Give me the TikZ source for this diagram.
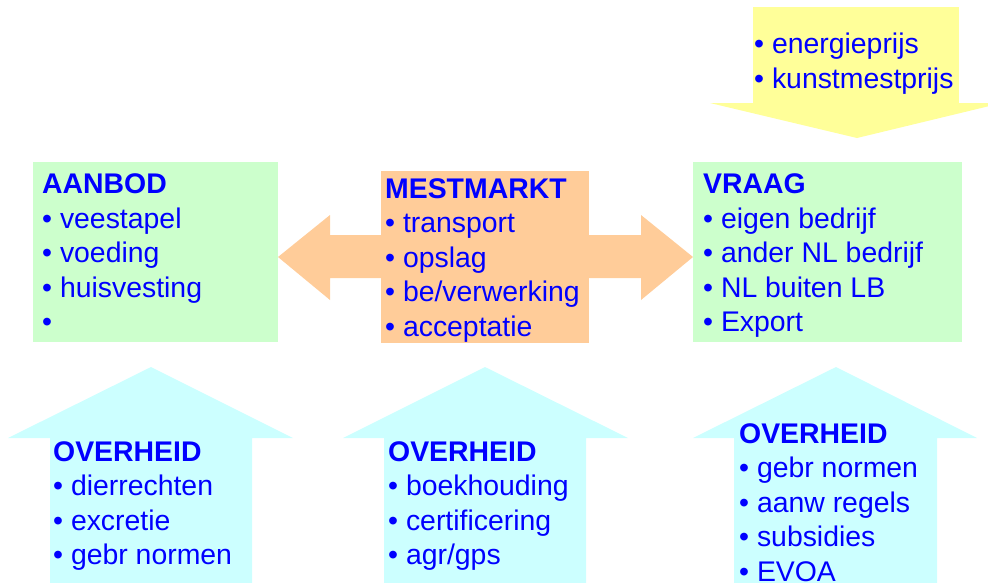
\documentclass[tikz,border=0pt]{standalone}
\usepackage{fontspec}
\setmainfont{Liberation Sans}
\definecolor{tblue}{RGB}{0,0,255}
\definecolor{fgreen}{RGB}{204,255,204}
\definecolor{forange}{RGB}{255,204,153}
\definecolor{fyellow}{RGB}{255,255,153}
\definecolor{fcyan}{RGB}{204,255,255}
\tikzset{
  lbl/.style={anchor=base west, inner sep=0pt, text=tblue, font=\fontsize{28.4}{34.5}\selectfont},
  hd/.style={lbl, font=\fontsize{28.4}{34.5}\selectfont\bfseries},
  noline/.style={draw=none}
}
\begin{document}
\begin{tikzpicture}[x=1pt,y=-1pt]
\useasboundingbox (0,0) rectangle (988,582);
\clip (0,0) rectangle (988,582);
% yellow arrow
\fill[fyellow] (753,7) rectangle (959,103);
\fill[fyellow] (710,103) -- (1002,103) -- (857,138) -- cycle;
% green boxes
\fill[fgreen] (33,162) rectangle (278,342);
\fill[fgreen] (693,162) rectangle (962,342);
% orange double arrow
\fill[forange] (278,257) -- (330,215) -- (330,235) -- (641,235) -- (641,215) -- (693,257)
  -- (641,300) -- (641,278) -- (330,278) -- (330,300) -- cycle;
\fill[forange] (381,171) rectangle (589,343);
% cyan arrows
\fill[fcyan] (151,367) -- (293,438) -- (252,438) -- (252,590) -- (50,590) -- (50,438) -- (8,438) -- cycle;
\fill[fcyan] (485,367) -- (628,438) -- (586,438) -- (586,590) -- (384,590) -- (384,438) -- (343,438) -- cycle;
\fill[fcyan] (836,367) -- (977,438) -- (937,438) -- (937,590) -- (734,590) -- (734,438) -- (693,438) -- cycle;
% yellow text
\node[lbl] (y1) at (754,53) {• energieprijs};
\node[lbl] (y2) at (754,88) {• kunstmestprijs};
% AANBOD
\node[hd]  (a0) at (42,193) {AANBOD};
\node[lbl] (a1) at (42,228) {• veestapel};
\node[lbl] (a2) at (42,262.5) {• voeding};
\node[lbl] (a3) at (42,297) {• huisvesting};
\node[lbl] (a4) at (42,331.5) {•};
% MESTMARKT
\node[hd]  (m0) at (385,198) {MESTMARKT};
\node[lbl] (m1) at (385,232.5) {• transport};
\node[lbl] (m2) at (385,267) {• opslag};
\node[lbl] (m3) at (385,301.5) {• be/verwerking};
\node[lbl] (m4) at (385,336) {• acceptatie};
% VRAAG
\node[hd]  (v0) at (703,193) {VRAAG};
\node[lbl] (v1) at (703,228) {• eigen bedrijf};
\node[lbl] (v2) at (703,262.5) {• ander NL bedrijf};
\node[lbl] (v3) at (703,297) {• NL buiten LB};
\node[lbl] (v4) at (703,331.5) {• Export};
% OVERHEID left
\node[hd]  (o10) at (53,461) {OVERHEID};
\node[lbl] (o11) at (53,495.5) {• dierrechten};
\node[lbl] (o12) at (53,530) {• excretie};
\node[lbl] (o13) at (53,564.5) {• gebr normen};
% OVERHEID middle
\node[hd]  (o20) at (388,461) {OVERHEID};
\node[lbl] (o21) at (388,495.5) {• boekhouding};
\node[lbl] (o22) at (388,530) {• certificering};
\node[lbl] (o23) at (388,564.5) {• agr/gps};
% OVERHEID right
\node[hd]  (o30) at (739,443) {OVERHEID};
\node[lbl] (o31) at (739,477.5) {• gebr normen};
\node[lbl] (o32) at (739,512) {• aanw regels};
\node[lbl] (o33) at (739,546.5) {• subsidies};
\node[lbl] (o34) at (739,581) {• EVOA};
\end{tikzpicture}
\end{document}
